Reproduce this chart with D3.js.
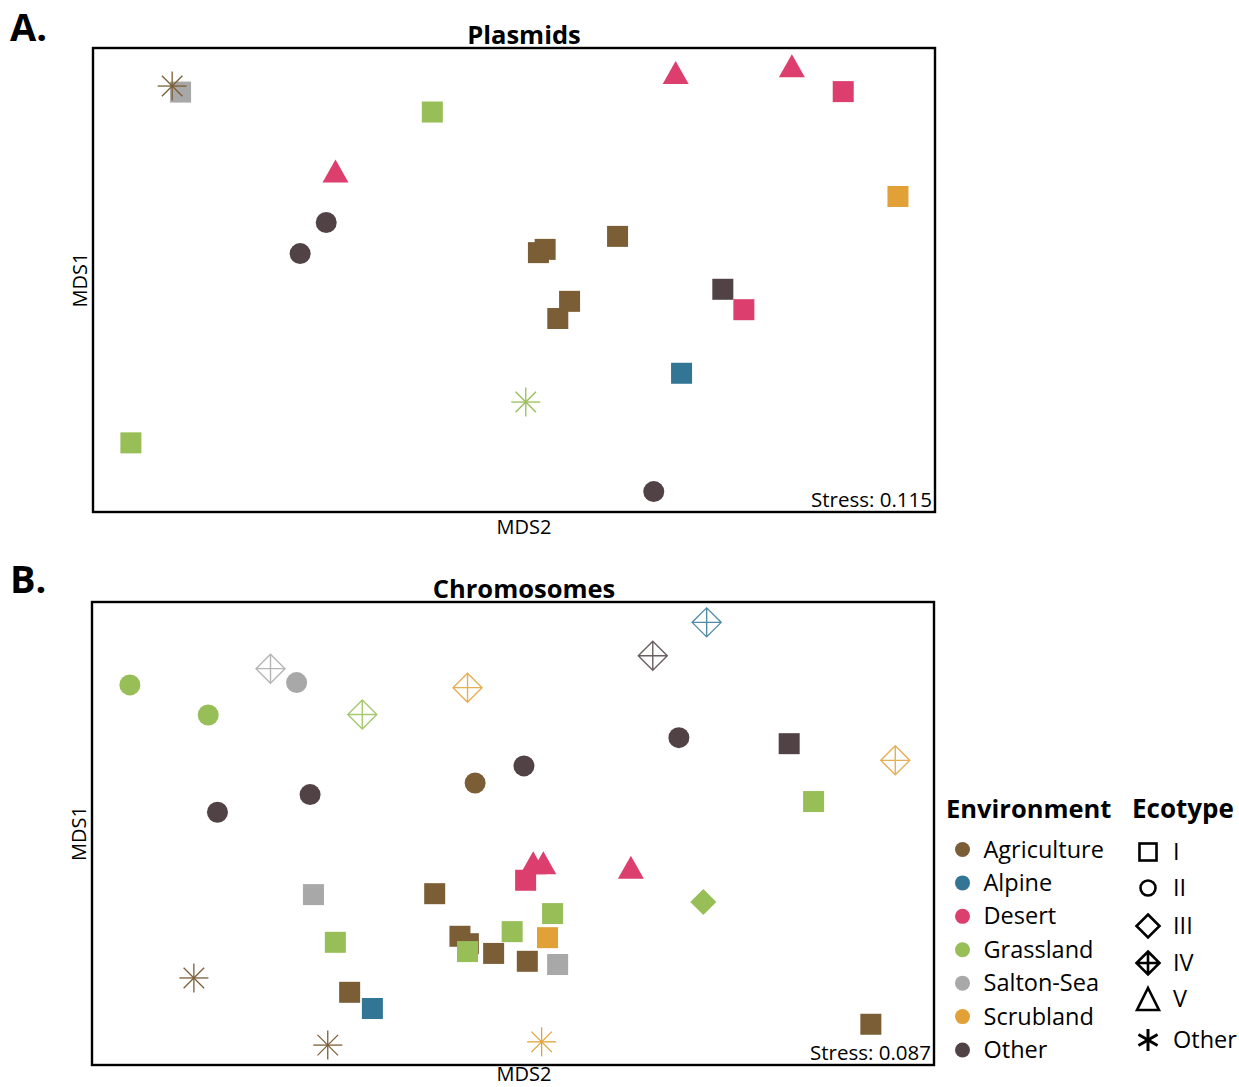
<!DOCTYPE html>
<html>
<head>
<meta charset="utf-8">
<script src="https://cdn.jsdelivr.net/npm/d3@7"></script>
<style>
  html, body { margin: 0; padding: 0; background: #fff; }
  svg { display: block; font-family: "Open Sans", "Noto Sans", sans-serif; }
</style>
</head>
<body>
<svg id="fig" width="1239" height="1087"></svg>
<script>
// ---- Environment palette ----
const envNames = ["Agriculture", "Alpine", "Desert", "Grassland", "Salton-Sea", "Scrubland", "Other"];
const envColors = ["#7B5E36", "#327594", "#DC3F6E", "#97BE57", "#A8A8A8", "#E1A137", "#514345"];
const ecotypeNames = ["I", "II", "III", "IV", "V", "Other"];

// ---- Panel A: plasmid NMDS ordination (MDS2 horizontal, MDS1 vertical, scaled 0-100) ----
const plasmidMDS2 = [10.4, 9.4, 40.3, 69.2, 83.0, 89.1, 95.6, 28.8, 27.7, 24.6,
                     52.9, 53.7, 62.3, 56.6, 55.2, 74.8, 77.3, 69.9, 51.4, 66.6, 4.5];
const plasmidMDS1 = [90.5, 91.8, 86.2, 94.7, 96.2, 90.6, 68.0, 73.5, 62.4, 55.7,
                     55.9, 56.6, 59.4, 45.4, 41.7, 48.0, 43.6, 29.9, 23.7, 4.4, 14.9];
const plasmidEnv = ["Salton-Sea", "Agriculture", "Grassland", "Desert", "Desert", "Desert", "Scrubland",
                    "Desert", "Other", "Other", "Agriculture", "Agriculture", "Agriculture", "Agriculture",
                    "Agriculture", "Other", "Desert", "Alpine", "Grassland", "Other", "Grassland"];
const plasmidEco = ["I", "Other", "I", "V", "V", "I", "I", "V", "II", "II", "I", "I", "I", "I",
                    "I", "I", "I", "I", "Other", "II", "I"];
const plasmidStress = "Stress: 0.115";

// ---- Panel B: chromosome NMDS ordination ----
const chromMDS2 = [4.5, 13.8, 21.2, 24.3, 32.1, 44.6, 66.6, 73.0, 69.7, 82.8,
                   95.4, 85.7, 14.9, 25.9, 45.5, 51.3, 26.3, 40.7, 28.9, 12.1,
                   30.6, 33.3, 28.0, 53.4, 51.5, 52.4, 53.6, 64.0, 72.6, 54.7,
                   49.9, 43.7, 44.7, 44.6, 47.7, 54.1, 51.7, 55.3, 92.5];
const chromMDS1 = [82.1, 75.6, 85.6, 82.6, 75.7, 81.5, 88.4, 95.6, 70.7, 69.4,
                   65.8, 56.9, 54.6, 58.4, 60.9, 64.6, 36.8, 37.0, 26.5, 18.8,
                   15.7, 12.2, 4.3, 5.0, 39.9, 43.7, 43.7, 42.7, 35.2, 32.7,
                   28.8, 27.8, 26.2, 24.5, 24.1, 27.5, 22.4, 21.7, 8.8];
const chromEnv = ["Grassland", "Grassland", "Salton-Sea", "Salton-Sea", "Grassland", "Scrubland", "Other",
                  "Alpine", "Other", "Other", "Scrubland", "Grassland", "Other", "Other", "Agriculture",
                  "Other", "Salton-Sea", "Agriculture", "Grassland", "Agriculture", "Agriculture", "Alpine",
                  "Agriculture", "Scrubland", "Desert", "Desert", "Desert", "Desert", "Grassland",
                  "Grassland", "Grassland", "Agriculture", "Agriculture", "Grassland", "Agriculture",
                  "Scrubland", "Agriculture", "Salton-Sea", "Agriculture"];
const chromEco = ["II", "II", "IV", "II", "IV", "IV", "IV", "IV", "II", "I",
                  "IV", "I", "II", "II", "II", "II", "I", "I", "I", "Other",
                  "I", "I", "Other", "Other", "I", "V", "V", "V", "III", "I",
                  "I", "I", "I", "I", "I", "I", "I", "I", "I"];
const chromStress = "Stress: 0.087";

const colorOf = d3.scaleOrdinal().domain(envNames).range(envColors);
const svg = d3.select("#fig");

// Draws one ecotype glyph centred on the current origin of group g.
function drawGlyph(g, eco, color, opts = {}) {
  const legend = !!opts.legend;
  const fill = legend ? "none" : color;
  const stroke = legend ? "#000" : color;
  const sw = legend ? 2.6 : 1.3;
  if (eco === "I") {
    const s = legend ? 17 : 21;
    g.append("rect").attr("x", -s / 2).attr("y", -s / 2).attr("width", s).attr("height", s)
      .attr("fill", fill).attr("stroke", legend ? stroke : "none").attr("stroke-width", sw);
  } else if (eco === "II") {
    const r = legend ? 7.5 : 10.5;
    g.append("circle").attr("r", r).attr("fill", fill)
      .attr("stroke", legend ? stroke : "none").attr("stroke-width", sw);
  } else if (eco === "III") {
    const h = legend ? 11.5 : 13;
    g.append("path").attr("d", `M0,${-h}L${h},0L0,${h}L${-h},0Z`).attr("fill", fill)
      .attr("stroke", legend ? stroke : "none").attr("stroke-width", sw);
  } else if (eco === "IV") {
    const h = legend ? 11.5 : 14.5;
    g.append("path")
      .attr("d", `M0,${-h}L${h},0L0,${h}L${-h},0ZM0,${-h}L0,${h}M${-h},0L${h},0`)
      .attr("fill", "none").attr("stroke", stroke).attr("stroke-width", legend ? sw : 1.4)
      .attr("stroke-opacity", legend ? 1 : 0.85);
  } else if (eco === "V") {
    const w = legend ? 11 : 13, hh = legend ? 11 : 11.5;
    g.append("path").attr("d", `M0,${-hh}L${w},${hh}L${-w},${hh}Z`).attr("fill", fill)
      .attr("stroke", legend ? stroke : "none").attr("stroke-width", sw).attr("stroke-linejoin", "miter");
  } else {
    const r = legend ? 11 : 14.5;
    const n = legend ? 3 : 4;
    const angles = d3.range(n).map(i => (i * Math.PI) / n + (legend ? Math.PI / 2 : 0));
    g.selectAll(null).data(angles).join("line")
      .attr("x1", a => -r * Math.cos(a)).attr("y1", a => -r * Math.sin(a))
      .attr("x2", a => r * Math.cos(a)).attr("y2", a => r * Math.sin(a))
      .attr("stroke", stroke).attr("stroke-width", legend ? 3 : 1.3);
  }
}

function drawPanel(cfg) {
  const { left, top, width, height } = cfg.frame;
  const x = d3.scaleLinear().domain([0, 100]).range([left, left + width]);
  const y = d3.scaleLinear().domain([0, 100]).range([top + height, top]);

  const pts = cfg.mds2.map((v, i) => ({ x: v, y: cfg.mds1[i], env: cfg.env[i], eco: cfg.eco[i] }));

  const pg = svg.append("g");
  pg.selectAll("g.pt").data(pts).join("g")
    .attr("class", "pt")
    .attr("transform", d => `translate(${x(d.x)},${y(d.y)})`)
    .each(function (d) { drawGlyph(d3.select(this), d.eco, colorOf(d.env)); });

  // frame
  svg.append("rect").attr("x", left).attr("y", top).attr("width", width).attr("height", height)
    .attr("fill", "none").attr("stroke", "#000").attr("stroke-width", 2.4);

  // panel letter and title
  svg.append("text").attr("x", cfg.letterX).attr("y", cfg.letterY).text(cfg.letter)
    .attr("font-size", 38).attr("font-weight", 700).attr("fill", "#000");
  svg.append("text").attr("x", 524).attr("y", top - 4).attr("text-anchor", "middle")
    .text(cfg.title).attr("font-size", 25.5).attr("font-weight", 700).attr("fill", "#000");

  // axis titles
  svg.append("text").attr("x", 524).attr("y", cfg.xLabelY).attr("text-anchor", "middle")
    .text("MDS2").attr("font-size", 20).attr("fill", "#000");
  svg.append("text").attr("transform", `translate(${left - 6},${top + height / 2}) rotate(-90)`)
    .attr("text-anchor", "middle").text("MDS1").attr("font-size", 20).attr("fill", "#000");

  // stress value
  svg.append("text").attr("x", left + width - 3).attr("y", top + height - 5)
    .attr("text-anchor", "end").text(cfg.stress).attr("font-size", 20.5).attr("fill", "#000");
}

drawPanel({
  frame: { left: 93, top: 48, width: 842, height: 464 },
  mds2: plasmidMDS2, mds1: plasmidMDS1, env: plasmidEnv, eco: plasmidEco,
  letter: "A.", letterX: 10, letterY: 41, title: "Plasmids", xLabelY: 534, stress: plasmidStress
});
drawPanel({
  frame: { left: 92, top: 602, width: 842, height: 463 },
  mds2: chromMDS2, mds1: chromMDS1, env: chromEnv, eco: chromEco,
  letter: "B.", letterX: 10, letterY: 593, title: "Chromosomes", xLabelY: 1081, stress: chromStress
});

// ---- Legends ----
const envY = d3.scalePoint().domain(envNames).range([849.5, 1050]);
const envLeg = svg.append("g");
envLeg.append("text").attr("x", 946).attr("y", 818).text("Environment")
  .attr("font-size", 25.5).attr("font-weight", 700).attr("fill", "#000");
const envItems = envLeg.selectAll("g.env").data(envNames).join("g")
  .attr("transform", d => `translate(962.5,${envY(d)})`);
envItems.append("circle").attr("r", 7.5).attr("fill", d => colorOf(d));
envItems.append("text").attr("x", 21).attr("y", 8).text(d => d)
  .attr("font-size", 23.5).attr("fill", "#000");

const ecoY = d3.scaleOrdinal().domain(ecotypeNames).range([852, 888, 926, 963, 999, 1040]);
const ecoLeg = svg.append("g");
ecoLeg.append("text").attr("x", 1132).attr("y", 818).text("Ecotype")
  .attr("font-size", 26).attr("font-weight", 700).attr("fill", "#000");
const ecoItems = ecoLeg.selectAll("g.eco").data(ecotypeNames).join("g")
  .attr("transform", d => `translate(1148,${ecoY(d)})`);
ecoItems.each(function (d) { drawGlyph(d3.select(this), d, "#000", { legend: true }); });
ecoItems.append("text").attr("x", 25).attr("y", 8).text(d => d)
  .attr("font-size", 23.5).attr("fill", "#000");
</script>
</body>
</html>
